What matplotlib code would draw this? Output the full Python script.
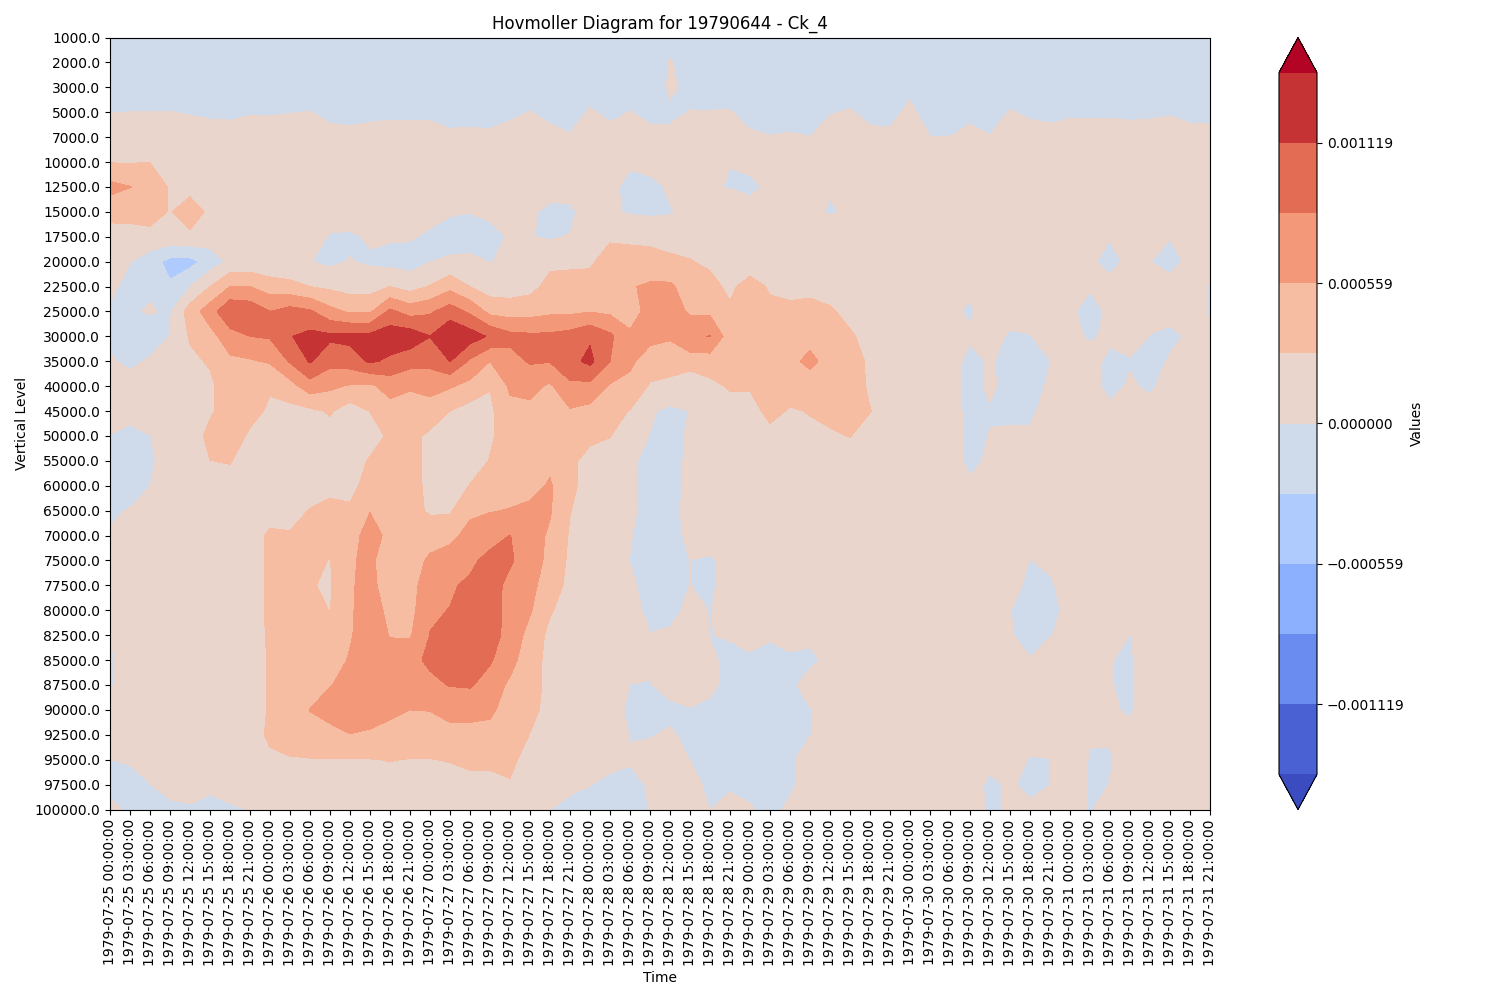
import numpy as np
import pandas as pd
import matplotlib
matplotlib.use('Agg')
import matplotlib.pyplot as plt

#vertical levels and time axis
vertical_levels = [1000.0, 2000.0, 3000.0, 5000.0, 7000.0, 10000.0, 12500.0, 15000.0,
                   17500.0, 20000.0, 22500.0, 25000.0, 30000.0, 35000.0, 40000.0, 45000.0,
                   50000.0, 55000.0, 60000.0, 65000.0, 70000.0, 75000.0, 77500.0, 80000.0,
                   82500.0, 85000.0, 87500.0, 90000.0, 92500.0, 95000.0, 97500.0, 100000.0]
time_labels = pd.date_range('1979-07-25 00:00:00', '1979-07-31 21:00:00', freq='3h').strftime('%Y-%m-%d %H:%M:%S').tolist()

#one contour step of the colorbar, rows below are written in these steps
step = 0.00027975
cbar_ticks = [-0.001119, -0.000559, 0.0, 0.000559, 0.001119]
cbar_labels = ['\u22120.001119', '\u22120.000559', '0.000000', '0.000559', '0.001119']

#values, one list per level, 56 times each
level_1000 = [-.5,-.5,-.5,-.5,-.5,-.5,-.5,-.5,-.5,-.5, -.5,-.5,-.5,-.5,-.5,-.5,-.5,-.5,-.5,-.5, -.5,-.5,-.5,-.5,-.5,-.5,-.5,-.5,-.5,-.5, -.5,-.5,-.5,-.5,-.5,-.5,-.5,-.5,-.5,-.5, -.5,-.5,-.5,-.5,-.5,-.5,-.5,-.5,-.5,-.5, -.5,-.5,-.5,-.5,-.5,-.5]
level_2000 = [-.5,-.5,-.5,-.5,-.5,-.5,-.5,-.5,-.5,-.5, -.5,-.5,-.5,-.5,-.5,-.5,-.5,-.5,-.5,-.5, -.5,-.5,-.5,-.5,-.5,-.5,-.5,-.9,.1,-.57, -.5,-.5,-.5,-.5,-.5,-.5,-.5,-.5,-.5,-.5, -.5,-.5,-.5,-.5,-.5,-.5,-.5,-.5,-.5,-.5, -.5,-.5,-.5,-.5,-.5,-.5]
level_3000 = [-.5,-.39,-.39,-.39,-.5,-.5,-.5,-.5,-.5,-.5, -.38,-.5,-.5,-.5,-.5,-.5,-.5,-.5,-.5,-.5, -.5,-.38,-.5,-.5,-.32,-.5,-.38,-.95,.2,-.3, -.37,-.35,-.5,-.5,-.5,-.5,-.5,-.34,-.5,-.5, -.21,-.5,-.5,-.5,-.5,-.35,-.5,-.5,-.5,-.5, -.5,-.5,-.5,-.5,-.5,-.5]
level_5000 = [-.02,.01,.01,.01,-.05,-.11,-.13,-.05,-.06,-.02, .02,-.18,-.22,-.16,-.13,-.13,-.14,-.26,-.24,-.27, -.14,.02,-.18,-.34,.08,-.16,.02,-.19,-.19,.03, .03,.05,-.27,-.37,-.32,-.39,-.05,.06,-.21,-.24, .19,-.39,-.39,-.19,-.37,.05,-.11,-.18,-.10,-.10, -.10,-.13,-.11,-.06,-.18,-.18]
level_7000 = [.38,.41,.41,.41,.35,.29,.27,.35,.34,.38, .3,.22,.18,.24,.27,.27,.26,.14,.16,.13, .26,.3,.22,.06,.3,.24,.3,.21,.21,.3, .3,.3,.13,.03,.08,.01,.35,.3,.19,.16, .3,.01,.01,.21,.03,.3,.29,.22,.3,.3, .3,.27,.29,.34,.22,.22]
level_10000 = [.95,.95,.98,.3,.4,.4,.4,.4,.4,.4, .4,.4,.4,.4,.4,.4,.4,.4,.4,.4, .4,.4,.4,.4,.4,.4,.2,.5,.4,.4, .4,.02,.5,.4,.4,.4,.4,.4,.4,.4, .4,.4,.4,.4,.4,.4,.4,.4,.4,.4, .4,.4,.4,.4,.4,.4]
level_12500 = [2.3,2.02,1.7,.88,.64,.4,.4,.4,.4,.4, .4,.4,.4,.4,.4,.4,.4,.4,.4,.4, .4,.4,.5,.6,.4,.33,-.4,-.4,.2,.4, .1,-.06,-.4,.27,.4,.4,.09,.4,.4,.4, .4,.4,.4,.4,.4,.4,.4,.4,.4,.4, .4,.4,.4,.4,.4,.4]
level_15000 = [1.4,1.35,1.35,.94,1.54,.77,.4,.4,.4,.4, .4,.3,.6,.4,.4,.4,.3,.1,.02,.2, .4,.2,-.3,-.3,.7,.15,-.1,-.2,-.1,.4, .4,.9,.7,.4,.4,.23,-.1,.15,.4,.4, .4,.4,.4,.4,.4,.4,.4,.4,.4,.4, .4,.4,.4,.4,.4,.4]
level_17500 = [.5,.6,.75,.7,.79,.5,.25,.25,.3,.3, .3,-.05,-.2,.15,.1,.1,-.15,-.4,-.4,-.3, .1,.03,-.1,.05,.3,.9,.9,.9,.8,.6, .5,.4,.4,.4,.4,.4,.9,.4,.4,.4, .4,.4,.4,.4,.4,.4,.4,.4,.4,.3, .05,.3,.3,.03,.3,.3]
level_20000 = [.3,.04,-.6,-1.3,-1.35,-.57,.19,.25,.2,.2, .02,-.2,.05,-.15,-.3,-.4,-.02,.15,.2,-.02, .1,.3,.8,.85,.9,1.3,1.2,1.15,1.1,1.05, .8,.4,.3,.4,.3,.3,.3,.3,.3,.3, .3,.3,.3,.3,.3,.3,.3,.3,.3,.16, -.3,.25,.02,-.3,.2,.2]
level_22500 = [.25,-.375,-.1,-.88,-.02,1.0,2.0,2.0,1.5,1.3, 1.0,.8,.6,.6,1.0,.6,1.05,1.7,1.0,.5, .5,.7,1.3,1.3,1.25,1.5,1.9,2.19,2.2,1.4, 1.35,.75,1.5,.85,.6,.7,.5,.4,.4,.4, .4,.4,.3,.25,.3,.3,.3,.3,.3,.1, .3,.3,.3,.3,.3,-.05]
level_25000 = [-.1,-.1,.06,-.1,1.47,2.53,3.87,3.7,3.0,3.4, 3.14,2.3,1.85,1.85,3.2,2.6,2.85,3.5,2.8,1.7, 1.55,1.6,1.8,1.8,1.95,1.8,1.75,2.2,2.5,1.85, 1.8,1.2,1.5,1.3,1.3,1.35,1.15,.65,.5,.4, .4,.3,.3,-.2,.8,.3,.3,.3,.215,-.4, .215,.3,.3,.3,.8,-.15]
level_30000 = [-.15,-.4,-.4,.02,1.1,1.64,2.58,3.0,3.1,3.95, 4.29,4.2,4.3,4.3,4.6,4.6,4.02,4.9,4.5,3.87, 3.3,3.2,3.2,3.4,3.85,3.2,2.1,2.3,2.1,2.85, 3.03,1.45,1.5,1.5,1.5,1.6,1.5,1.15,.6,.4, .4,.3,.6,.2,.3,-.1,-.03,.3,.4,-.2, .3,.5,-.03,-.2,.11,.2]
level_35000 = [.1,-.2,.1,.35,.8,1.1,1.8,1.9,2.1,3.1, 4.1,3.3,3.5,4.15,3.8,3.4,3.3,4.02,2.85,2.0, 2.6,3.1,3.05,3.69,4.25,3.0,2.2,1.5,1.5,1.5, 1.5,1.3,1.5,1.55,1.7,2.3,1.55,1.4,.85,.4, .4,.4,.6,-.4,.13,-.4,-.4,-.02,.4,.6, -.4,-.1,-.4,.1,.4,.4]
level_40000 = [.4,.4,.4,.4,.4,.8,1.6,1.7,1.1,1.6, 2.55,2.2,1.9,1.8,2.4,2.1,2.3,2.1,1.7,1.05, 2.15,2.3,1.85,2.8,2.7,1.9,1.7,.9,.7,.2, .75,1.1,1.1,1.5,1.5,1.4,1.5,1.5,.85,.4, .4,.4,.6,-.4,.2,-.4,-.4,.15,.4,.4, -.4,.15,-.2,.5,.4,.4]
level_45000 = [.4,.25,.4,.4,-.05,.85,1.5,1.3,.85,.7, .8,1.1,.5,1.02,1.6,1.6,1.6,1.0,.6,.8, 1.75,1.75,1.5,1.9,1.7,1.4,.95,.1,-.2,.02, .3,.6,.6,1.3,.9,1.05,1.3,1.4,1.03,.5, .4,.4,.6,-.4,-.1,-.4,-.4,.8,.4,.4, .3,.3,.4,.4,.4,.4]
level_50000 = [-.02,-.2,-.02,.5,.4,1.3,1.5,.85,.6,.5, .4,.6,.45,.5,1.2,1.3,.8,.6,.5,.85, 1.5,1.6,1.3,1.5,1.2,1.03,.3,-.02,-.3,.13, .2,.3,.25,.7,.5,.8,.85,1.03,.6,.4, .4,.4,.9,-.4,.05,.3,.3,.6,.4,.4, .4,.4,.4,.4,.4,.4]
level_55000 = [-.3,-.4,-.25,.7,.6,.99,1.05,.6,.5,.45, .35,.45,.5,1.1,1.25,1.3,.8,.4,.4,1.05, 1.5,1.6,1.8,1.2,.7,.6,.2,-.3,-.35,.19, .25,.3,.3,.3,.3,.5,.4,.5,.4,.4, .4,.4,.5,-.3,.2,.4,.4,.4,.4,.4, .4,.4,.4,.4,.4,.4]
level_60000 = [-.3,-.3,-.01,.5,.5,.5,.7,.5,.5,.5, .5,.7,.7,1.4,1.3,1.3,.8,.35,1.05,1.4, 1.6,1.7,2.1,1.2,.65,.5,.15,-.35,-.35,.2, .25,.3,.4,.4,.4,.4,.4,.4,.4,.4, .4,.4,.4,.2,.4,.4,.4,.4,.4,.4, .4,.4,.4,.4,.4,.4]
level_65000 = [-.15,.05,.2,.4,.4,.4,.5,.5,.5,.6, 1.05,1.3,1.15,1.95,1.35,1.3,.88,.9,1.7,1.95, 2.05,2.2,2.1,1.03,.6,.5,.17,-.3,-.35,.35, .35,.3,.4,.4,.4,.4,.4,.4,.4,.4, .4,.4,.4,.4,.4,.4,.4,.4,.4,.4, .4,.4,.4,.4,.4,.4]
level_70000 = [.1,.3,.3,.4,.4,.4,.5,.5,1.2,1.1, 1.2,1.3,1.35,2.65,1.57,1.35,1.5,1.6,2.5,2.6, 3.02,2.5,1.83,.9,.5,.4,.05,-.35,-.35,.2, .7,.4,.4,.4,.4,.4,.4,.4,.4,.4, .4,.4,.4,.4,.4,.4,.3,.4,.4,.4, .4,.4,.4,.4,.4,.4]
level_75000 = [.35,.4,.4,.4,.4,.4,.45,.5,1.2,1.3, 1.2,.97,1.9,2.2,1.45,1.45,2.2,2.7,2.8,3.3, 3.15,2.4,1.78,.8,.5,.3,-.02,-.4,-.4,.01, -.2,.47,.4,.4,.4,.4,.4,.4,.4,.4, .4,.4,.4,.4,.4,.4,-.02,.15,.4,.4, .4,.4,.4,.4,.4,.4]
level_77500 = [.35,.4,.4,.4,.4,.4,.45,.5,1.2,1.3, 1.05,.9,1.9,2.3,1.45,1.5,2.75,2.9,3.15,3.5, 2.67,2.25,1.55,.7,.5,.4,.2,-.4,-.4,.01, -.2,.5,.4,.4,.4,.4,.4,.4,.4,.4, .4,.4,.4,.4,.4,.6,-.4,-.1,.3,.4, .4,.4,.4,.4,.4,.4]
level_80000 = [.3,.4,.4,.4,.4,.4,.45,.5,1.2,1.3, 1.25,.98,1.9,2.4,1.78,1.65,2.9,3.02,3.6,3.5, 2.65,2.1,1.1,.55,.45,.4,.3,-.2,-.3,.25, -.03,.3,.4,.4,.4,.4,.4,.4,.4,.4, .4,.4,.4,.4,.4,.02,-.5,-.2,.2,.4, .4,.1,.4,.4,.4,.4]
level_82500 = [.02,.4,.4,.4,.4,.4,.45,.5,1.15,1.35, 1.35,1.3,1.9,2.6,1.95,1.9,3.02,3.3,3.9,3.4, 2.65,1.65,.75,.5,.45,.5,.4,.02,.15,.3, -.02,.1,.2,.1,.2,.2,.3,.4,.4,.4, .4,.4,.4,.4,.4,.1,-.4,-.05,.3,.4, .4,-.02,.4,.4,.4,.4]
level_85000 = [-.2,.6,.4,.4,.4,.4,.45,.5,1.1,1.4, 1.4,1.5,2.1,2.7,2.4,2.7,3.2,3.5,3.7,3.1, 2.4,1.3,.8,.45,.45,.5,.4,.2,.3,.3, .2,-.3,-.1,-.3,-.1,-.2,.2,.4,.4,.4, .4,.4,.4,.4,.4,.4,.05,.4,.4,.4, .05,-.2,.9,.4,.4,.4]
level_87500 = [-.1,.5,.4,.4,.4,.4,.45,.5,1.1,1.4, 1.6,1.97,2.2,2.7,2.6,2.9,2.75,3.05,3.1,2.6, 1.8,1.3,.8,.45,.45,.9,-.01,-.05,.3,.4, .3,-.4,-.4,-.4,-.2,.37,.3,.4,.4,.4, .4,.4,.4,.4,.4,.4,.4,.4,.4,.4, .05,-.2,.9,.4,.4,.4]
level_90000 = [.1,.4,.4,.4,.4,.4,.45,.5,1.1,1.4, 2.02,2.3,2.5,2.5,2.2,2.0,2.02,2.2,2.3,2.15, 1.65,1.25,.7,.45,.45,.9,-.4,-.4,-.2,-.05, -.3,-.4,-.4,-.4,-.4,-.05,.3,.4,.4,.4, .4,.4,.4,.4,.4,.4,.4,.4,.4,.4, .1,-.1,.5,.4,.4,.4]
level_92500 = [.4,.4,.4,.4,.4,.4,.45,.5,1.2,1.3, 1.7,1.75,1.98,1.85,1.7,1.65,1.65,1.8,1.7,1.75, 1.4,.98,.55,.4,.4,.9,-.05,-.05,.1,-.2, -.4,-.4,-.4,-.4,-.4,-.02,.3,.4,.4,.4, .4,.4,.4,.4,.4,.4,.3,.3,.4,.12, .07,.2,.4,.4,.4,.4]
level_95000 = [-.01,.1,.3,.4,.4,.4,.45,.5,.8,.95, .95,.97,.95,.97,1.03,.97,.97,1.05,1.15,1.15, 1.15,.75,.5,.3,.3,.25,.1,.3,.3,-.01, -.4,-.4,-.4,-.4,-.1,.3,.3,.4,.4,.4, .4,.4,.4,.4,.4,.3,-.05,-.01,.9,-.1, -.07,.5,.4,.4,.4,.4]
level_97500 = [-.4,-.35,-.02,.3,.35,.2,.3,.5,.45,.5, .5,.55,.6,.6,.65,.65,.65,.6,.8,.8, .95,.6,.35,.15,.02,-.2,-.3,.1,.3,.3, -.2,-.2,-.3,-.4,-.2,.5,.4,.4,.4,.4, .4,.4,.4,.56,-.3,.18,-.4,-.01,.9,-.1, .01,.5,.4,.4,.4,.4]
level_100000 = [.3,-.2,-.3,-.2,-.1,-.3,-.1,.02,.4,.4, .45,.45,.45,.45,.5,.5,.5,.45,.55,.55, .6,.55,.01,-.2,-.3,-.3,-.3,.03,.3,.3, -.01,.5,.1,-.3,.2,.4,.4,.4,.4,.4, .4,.4,.4,.4,-.1,.08,.3,.3,.9,-.1, .5,.5,.4,.4,.4,.4]

rows = [level_1000, level_2000, level_3000, level_5000, level_7000, level_10000, level_12500, level_15000,
        level_17500, level_20000, level_22500, level_25000, level_30000, level_35000, level_40000, level_45000,
        level_50000, level_55000, level_60000, level_65000, level_70000, level_75000, level_77500, level_80000,
        level_82500, level_85000, level_87500, level_90000, level_92500, level_95000, level_97500, level_100000]
values = np.array(rows) * step

#contour levels, symmetric around zero
contour_levels = np.arange(-5, 6) * step

fig = plt.figure(figsize=(15, 10), dpi=100)
ax = fig.add_axes([110 / 1500, 190.5 / 1000, 1100 / 1500, 772 / 1000])
cax = fig.add_axes([1279 / 1500, 190.5 / 1000, 38 / 1500, 772 / 1000])

cs = ax.contourf(np.arange(len(time_labels)), np.arange(len(vertical_levels)), values,
                 levels=contour_levels, cmap='coolwarm', extend='both')

ax.set_xticks(np.arange(len(time_labels)))
ax.set_xticklabels(time_labels, rotation=90)
ax.set_yticks(np.arange(len(vertical_levels)))
ax.set_yticklabels([str(v) for v in vertical_levels])
ax.invert_yaxis()
ax.set_xlabel('Time')
ax.set_ylabel('Vertical Level')
ax.set_title('Hovmoller Diagram for 19790644 - Ck_4')

cbar = fig.colorbar(cs, cax=cax)
cbar.set_ticks(cbar_ticks)
cbar.set_ticklabels(cbar_labels)
cbar.set_label('Values')

plt.savefig('out.png', dpi=100)
